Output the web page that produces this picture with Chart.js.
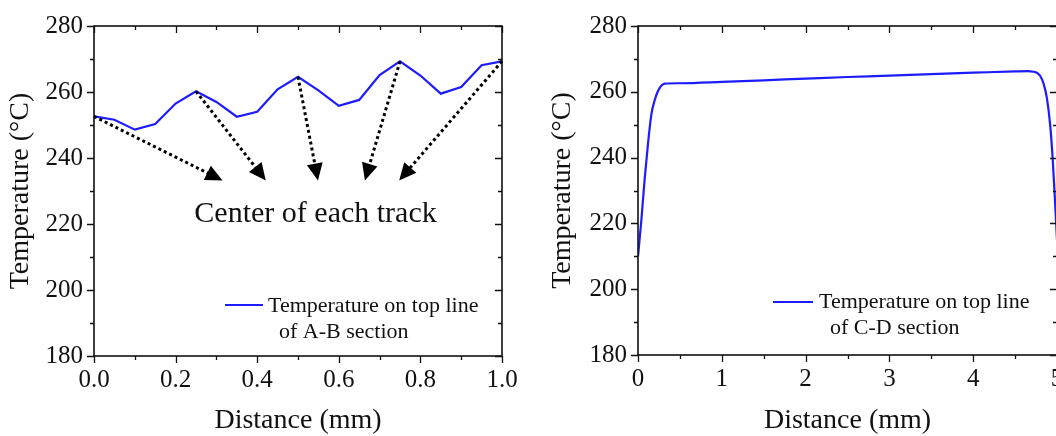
<!DOCTYPE html>
<html>
<head>
<meta charset="utf-8">
<title>Temperature on top line</title>
<script src="https://cdn.jsdelivr.net/npm/chart.js@4.4.1/dist/chart.umd.min.js"></script>
<style>
  html, body { margin: 0; padding: 0; background: #fff; overflow: hidden; }
  #wrap { position: relative; width: 1056px; height: 436px; overflow: hidden; }
  #chartAB { position: absolute; left: 0; top: 0; }
  #chartCD { position: absolute; left: 530px; top: 0; }
</style>
</head>
<body>
<div id="wrap">
  <canvas id="chartAB" width="530" height="436"></canvas>
  <canvas id="chartCD" width="557" height="436"></canvas>
</div>
<script>
// Datos seccion A-B (cada 0.05 mm)
const distAB = [0, 0.05, 0.10, 0.15, 0.20, 0.25, 0.30, 0.35, 0.40, 0.45, 0.50,
                0.55, 0.60, 0.65, 0.70, 0.75, 0.80, 0.85, 0.90, 0.95, 1.00];
const tempAB = [252.6, 251.6, 248.6, 250.3, 256.5, 260.2, 257.0, 252.5, 254.0, 260.8, 264.6,
                260.5, 255.8, 257.6, 265.1, 269.3, 265.0, 259.5, 261.5, 268.1, 269.3];

// Datos seccion C-D
const distCD = [0, 0.04, 0.08, 0.12, 0.16, 0.20, 0.24, 0.28, 0.32, 0.5, 1, 1.5, 2, 2.5, 3, 3.5, 4,
                4.5, 4.65, 4.72, 4.76, 4.8, 4.84, 4.88, 4.92, 4.95, 4.98, 5.0];
const tempCD = [210, 221, 233.6, 244.4, 253.2, 257.5, 260.3, 261.9, 262.5, 262.6, 263.0, 263.5, 264.0,
                264.5, 264.9, 265.4, 265.8, 266.2, 266.3, 266.1, 265.8, 264.8, 262.5, 258.0, 249.5,
                239.0, 225.0, 215.0];

// Flechas "Center of each track": salen de los picos (indices en distAB)
const arrowFromIdx = [0, 5, 10, 15, 20];
const arrowToX = [0.315, 0.421, 0.549, 0.664, 0.748];
const arrowToY = [233.2, 233.2, 233.2, 233.2, 233.2];

// Etiquetas de ejes
const tempTicks = [180, 200, 220, 240, 260, 280];
const distTicksAB = [0, 0.2, 0.4, 0.6, 0.8, 1.0];
const distTicksCD = [0, 1, 2, 3, 4, 5];

const serif = "'Liberation Serif', 'Times New Roman', Times, serif";
const lineBlue = '#1c1cff';
const ink = '#111';

Chart.defaults.font.family = serif;
Chart.defaults.color = ink;

// Marco con ticks mayores/menores (hacia fuera abajo/izq, hacia dentro arriba/der)
const framePlugin = {
  id: 'frame',
  afterDatasetsDraw(chart, args, opts) {
    const { ctx, chartArea: a, scales: { x, y } } = chart;
    ctx.save();
    ctx.strokeStyle = ink;
    ctx.lineWidth = 1.6;
    ctx.strokeRect(a.left, a.top, a.right - a.left, a.bottom - a.top);

    ctx.lineWidth = 1.3;
    ctx.beginPath();
    const nx = Math.round((x.max - x.min) / opts.xMinor);
    for (let i = 0; i <= nx; i++) {
      const v = x.min + i * opts.xMinor;
      const len = i % opts.xEvery === 0 ? 7 : 4;
      const px = Math.round(x.getPixelForValue(v)) + 0.5;
      ctx.moveTo(px, a.bottom); ctx.lineTo(px, a.bottom + len);
      ctx.moveTo(px, a.top); ctx.lineTo(px, a.top + len);
    }
    const ny = Math.round((y.max - y.min) / opts.yMinor);
    for (let i = 0; i <= ny; i++) {
      const v = y.min + i * opts.yMinor;
      const len = i % opts.yEvery === 0 ? 7 : 4;
      const py = Math.round(y.getPixelForValue(v)) + 0.5;
      ctx.moveTo(a.left, py); ctx.lineTo(a.left - len, py);
      ctx.moveTo(a.right, py); ctx.lineTo(a.right - len, py);
    }
    ctx.stroke();
    ctx.restore();
  }
};

// Leyenda de dos lineas dibujada a mano
const legendPlugin = {
  id: 'twoLineLegend',
  afterDraw(chart, args, opts) {
    const { ctx, chartArea: a } = chart;
    ctx.save();
    ctx.strokeStyle = lineBlue;
    ctx.lineWidth = 2;
    ctx.beginPath();
    ctx.moveTo(a.left + opts.lineX0, a.bottom - opts.lineY);
    ctx.lineTo(a.left + opts.lineX1, a.bottom - opts.lineY);
    ctx.stroke();
    ctx.fillStyle = ink;
    ctx.font = '22px ' + serif;
    ctx.textBaseline = 'alphabetic';
    ctx.textAlign = 'left';
    ctx.fillText(opts.text[0], a.left + opts.textX[0], a.bottom - opts.textY[0]);
    ctx.fillText(opts.text[1], a.left + opts.textX[1], a.bottom - opts.textY[1]);
    ctx.restore();
  }
};

// Flechas punteadas y texto de la figura A-B
const arrowPlugin = {
  id: 'trackArrows',
  afterDatasetsDraw(chart) {
    if (chart.canvas.id !== 'chartAB') return;
    const { ctx, scales: { x, y } } = chart;
    ctx.save();
    ctx.fillStyle = '#000';
    ctx.strokeStyle = '#000';
    for (let i = 0; i < arrowFromIdx.length; i++) {
      const k = arrowFromIdx[i];
      const sx = x.getPixelForValue(distAB[k]);
      const sy = y.getPixelForValue(tempAB[k]);
      const tx = x.getPixelForValue(arrowToX[i]);
      const ty = y.getPixelForValue(arrowToY[i]);
      const dx = tx - sx, dy = ty - sy;
      const len = Math.hypot(dx, dy);
      const ux = dx / len, uy = dy / len;
      const head = 17, half = 8;
      // linea de puntos
      ctx.lineWidth = 3;
      ctx.setLineDash([3, 3]);
      ctx.beginPath();
      ctx.moveTo(sx, sy);
      ctx.lineTo(tx - ux * head * 0.8, ty - uy * head * 0.8);
      ctx.stroke();
      ctx.setLineDash([]);
      // punta
      const bx = tx - ux * head, by = ty - uy * head;
      ctx.beginPath();
      ctx.moveTo(tx, ty);
      ctx.lineTo(bx - uy * half, by + ux * half);
      ctx.lineTo(bx + uy * half, by - ux * half);
      ctx.closePath();
      ctx.fill();
    }
    ctx.font = '30px ' + serif;
    ctx.fillStyle = ink;
    ctx.textAlign = 'center';
    ctx.textBaseline = 'middle';
    ctx.fillText('Center of each track', x.getPixelForValue(0.543), y.getPixelForValue(223));
    ctx.restore();
  }
};

function makeChart(id, dist, temp, xTicks, cfg) {
  const points = dist.map((d, i) => ({ x: d, y: temp[i] }));
  return new Chart(document.getElementById(id), {
    type: 'line',
    data: {
      datasets: [{
        label: 'Temperature on top line',
        data: points,
        borderColor: lineBlue,
        borderWidth: 2.2,
        pointRadius: 0,
        fill: false,
        cubicInterpolationMode: cfg.smooth ? 'monotone' : 'default',
        tension: 0
      }]
    },
    options: {
      responsive: false,
      animation: false,
      layout: { padding: { top: cfg.padTop, right: cfg.padRight, left: 0, bottom: 0 } },
      plugins: {
        legend: { display: false },
        tooltip: { enabled: false },
        frame: cfg.frame,
        twoLineLegend: cfg.legend
      },
      scales: {
        x: {
          type: 'linear',
          min: xTicks[0],
          max: xTicks[xTicks.length - 1],
          grid: { display: false, drawTicks: false },
          border: { display: false },
          afterBuildTicks: s => { s.ticks = xTicks.map(v => ({ value: v })); },
          afterFit: s => { s.height = cfg.xHeight; },
          ticks: {
            font: { size: 25 },
            padding: 9,
            maxRotation: 0,
            callback: v => cfg.xDigits ? v.toFixed(cfg.xDigits) : String(v)
          },
          title: {
            display: true,
            text: 'Distance (mm)',
            font: { size: 28, lineHeight: 1 },
            padding: { top: 0, bottom: 1 }
          }
        },
        y: {
          min: 180,
          max: 280,
          grid: { display: false, drawTicks: false },
          border: { display: false },
          afterBuildTicks: s => { s.ticks = tempTicks.map(v => ({ value: v })); },
          afterFit: s => { s.width = cfg.yWidth; },
          ticks: { font: { size: 25 }, padding: 11 },
          title: {
            display: true,
            text: 'Temperature (\u00B0C)',
            font: { size: 28, lineHeight: 1 },
            padding: { top: cfg.yTitlePad, bottom: 0 }
          }
        }
      }
    },
    plugins: [framePlugin, arrowPlugin, legendPlugin]
  });
}

makeChart('chartAB', distAB, tempAB, distTicksAB, {
  smooth: false, padTop: 23, padRight: 28, xHeight: 80, yWidth: 94, yTitlePad: 7, xDigits: 1,
  frame: { xMinor: 0.1, xEvery: 2, yMinor: 10, yEvery: 2 },
  legend: { lineX0: 131, lineX1: 169, lineY: 51, text: ['Temperature on top line', 'of A-B section'],
            textX: [174, 185], textY: [44, 18] }
});

makeChart('chartCD', distCD, tempCD, distTicksCD, {
  smooth: true, padTop: 16, padRight: 30, xHeight: 81, yWidth: 108, yTitlePad: 19, xDigits: 0,
  frame: { xMinor: 0.5, xEvery: 2, yMinor: 10, yEvery: 2 },
  legend: { lineX0: 135, lineX1: 175, lineY: 53, text: ['Temperature on top line', 'of C-D section'],
            textX: [181, 192], textY: [47, 21] }
});
</script>
</body>
</html>
